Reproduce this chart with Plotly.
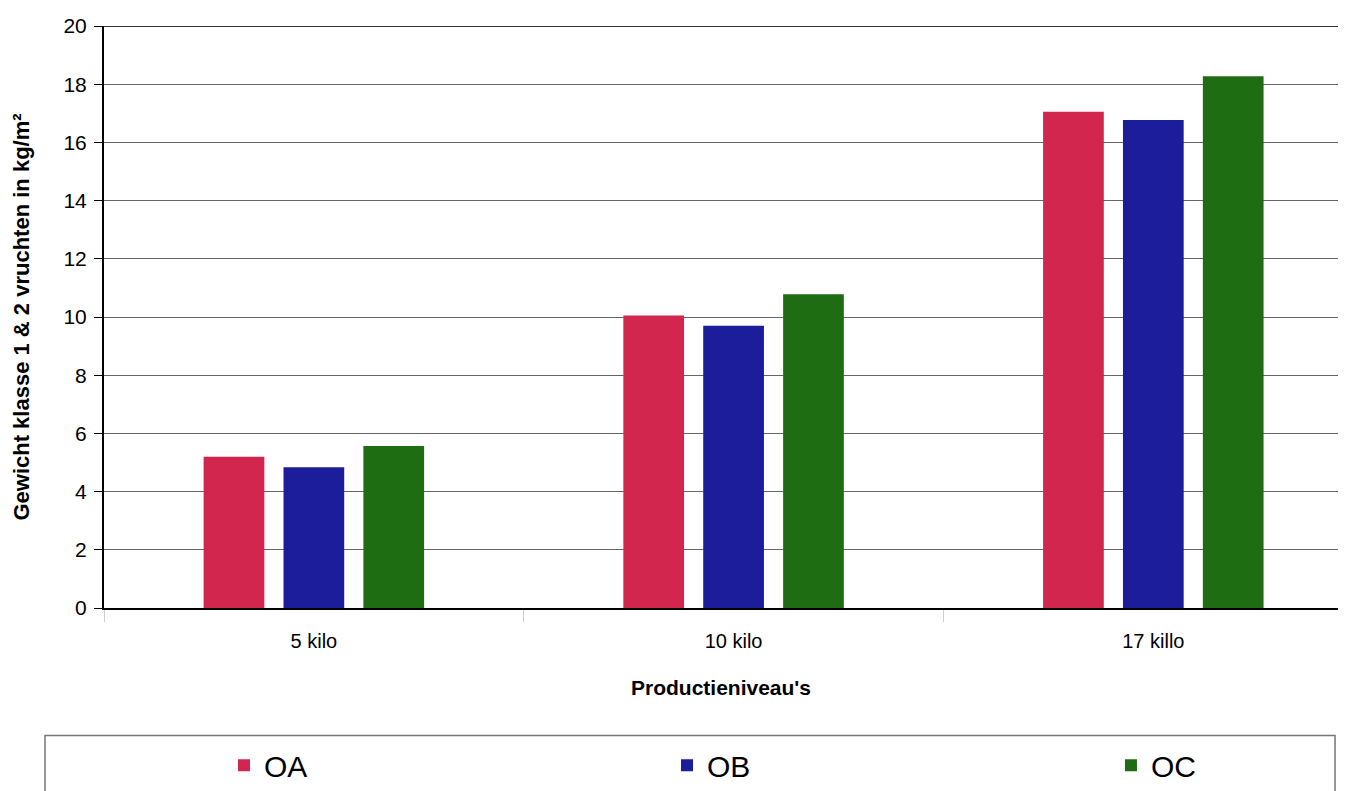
import plotly.graph_objects as go

categories = ["5 kilo", "10 kilo", "17 killo"]
series_names = ["OA", "OB", "OC"]
oa_values = [5.2, 10.05, 17.05]
ob_values = [4.84, 9.7, 16.77]
oc_values = [5.57, 10.78, 18.27]
y_ticks = [0, 2, 4, 6, 8, 10, 12, 14, 16, 18, 20]

colors = ["#d3264f", "#1b1d9a", "#1f6d12"]
font_family = "Liberation Sans, Arial, sans-serif"
legend_ids = ["legend", "legend2", "legend3"]
legend_x = [0.1612, 0.4918, 0.8231]

fig = go.Figure()
for name, vals, col, lg in zip(series_names, [oa_values, ob_values, oc_values], colors, legend_ids):
    fig.add_trace(go.Bar(x=categories, y=vals, name=name, marker_color=col,
                         marker_line_width=0, legend=lg))

legend_common = dict(orientation="h", xref="container", yref="container",
                     y=0.066, xanchor="left", yanchor="top",
                     font=dict(size=30, family=font_family),
                     bgcolor="rgba(0,0,0,0)", borderwidth=0)

fig.update_layout(
    width=1340, height=783,
    margin=dict(l=96, r=10, t=18, b=183),
    paper_bgcolor="white", plot_bgcolor="white",
    barmode="group", bargap=0.429, bargroupgap=0.24,
    font=dict(family=font_family, color="black", size=20),
    showlegend=True,
    legend=dict(x=legend_x[0], **legend_common),
    legend2=dict(x=legend_x[1], **legend_common),
    legend3=dict(x=legend_x[2], **legend_common),
    shapes=[dict(type="rect", xref="paper", yref="paper",
                 x0=-0.0478, x1=0.9976, y0=-0.40, y1=-0.219,
                 line=dict(color="#777777", width=1.5), fillcolor="rgba(0,0,0,0)")],
)

fig.update_xaxes(
    range=[-0.5, 2.44], automargin=False,
    showline=True, linecolor="black", linewidth=2,
    ticks="outside", tickson="boundaries", ticklen=12, tickcolor="#cccccc",
    ticklabelstandoff=14,
    tickfont=dict(size=20), showgrid=False,
    title=dict(text="<b>Productieniveau's</b>", font=dict(size=21), standoff=29),
)
fig.update_yaxes(
    range=[0, 20], tickvals=y_ticks, automargin=False,
    showline=True, linecolor="black", linewidth=2,
    ticks="outside", ticklen=8, tickcolor="black", tickfont=dict(size=21),
    ticklabelstandoff=3,
    showgrid=True, gridcolor="#666666", gridwidth=1, zeroline=False,
    title=dict(text="<b>Gewicht klasse 1 &amp; 2 vruchten in kg/m²</b>", font=dict(size=22), standoff=28),
)
# top border line at 20
fig.add_hline(y=20, line=dict(color="#333333", width=2))

fig.write_html("out.html")
